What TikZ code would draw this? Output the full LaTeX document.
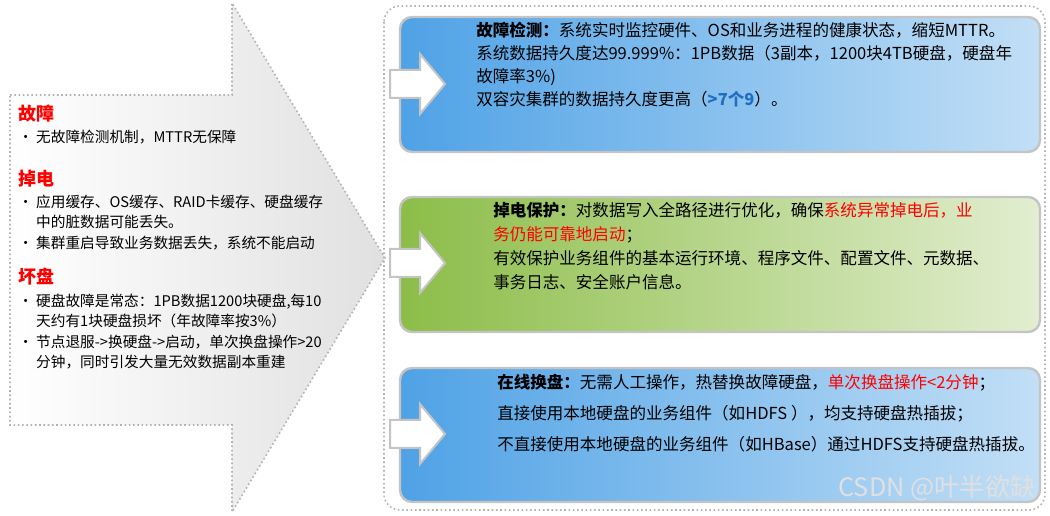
\documentclass[tikz,border=0pt]{standalone}
\usepackage{fontspec}
\setmainfont{Noto Sans CJK SC}
\usetikzlibrary{shadings}
\definecolor{bdark}{HTML}{4FA2E6}
\definecolor{blight}{HTML}{C2DFF6}
\definecolor{gdark}{HTML}{8CBD48}
\definecolor{glight}{HTML}{E2EED0}
\definecolor{brd}{HTML}{C4C4C4}
\definecolor{redt}{HTML}{FF0000}
\definecolor{bluet}{HTML}{1F6FC0}
\tikzset{
  panel/.style={draw=brd,line width=1.8pt,rounded corners=9pt},
  warrow/.style={draw=brd,line width=1.5pt,fill=white},
  ltxt/.style={anchor=north west,align=left,font=\fontsize{11}{15}\selectfont,inner sep=0pt},
  lhead/.style={anchor=north west,font=\fontsize{13.5}{15}\selectfont\bfseries,text=redt,inner sep=0pt},
  btxt/.style={anchor=north west,align=left,inner sep=0pt}
}
\begin{document}
\begin{tikzpicture}[x=0.75pt,y=-0.75pt]
\useasboundingbox (0,0) rectangle (1050,516);
% big left arrow
\path[left color=white,right color=black!12,draw=black!30,dotted,line width=1.2pt]
 (10,95) -- (232,95) -- (232,3) -- (385,258) -- (232,512) -- (232,425) -- (10,425) -- cycle;
% right dotted container
\draw[black!30,dotted,line width=1.2pt,rounded corners=12pt] (384,6) rectangle (1045,510);
% panels
\path[panel,left color=bdark,right color=blight] (400,17) rectangle (1040,152);
\path[panel,left color=gdark,right color=glight] (400,197) rectangle (1040,332);
\path[panel,left color=bdark,right color=blight] (400,368) rectangle (1040,502);
% white arrows
\foreach \y/\n in {84/a1,263/a2,434/a3}{
 \path[warrow] (390,\y-14) -- (420,\y-14) -- (420,\y-30) -- (445,\y) -- (420,\y+30) -- (420,\y+14) -- (390,\y+14) -- cycle;
}
% box texts
\node[btxt,font=\fontsize{12.4}{17.2}\selectfont] (t1) at (476,22) {%
{\bfseries 故障检测：}系统实时监控硬件、OS和业务进程的健康状态，缩短MTTR。\\
系统数据持久度达99.999\%：1PB数据（3副本，1200块4TB硬盘，硬盘年\\
故障率3\%)\\
双容灾集群的数据持久度更高（{\color{bluet}\bfseries >7个9}）。};
\node[btxt,font=\fontsize{12.4}{18}\selectfont] (t2) at (493,202) {%
{\bfseries 掉电保护：}对数据写入全路径进行优化，确保{\color{redt}系统异常掉电后，业}\\
{\color{redt}务仍能可靠地启动}；\\
有效保护业务组件的基本运行环境、程序文件、配置文件、元数据、\\
事务日志、安全账户信息。};
\node[btxt,font=\fontsize{12.4}{23.3}\selectfont] (t3) at (497,374) {%
{\bfseries 在线换盘：}无需人工操作，热替换故障硬盘，{\color{redt}单次换盘操作<2分钟}；\\
直接使用本地硬盘的业务组件（如HDFS ），均支持硬盘热插拔；\\
不直接使用本地硬盘的业务组件（如HBase）通过HDFS支持硬盘热插拔。};
% left texts
\node[lhead] (h1) at (18,105) {故障};
\node[ltxt] (l1) at (18,130) {•\ 无故障检测机制，MTTR无保障};
\node[lhead] (h2) at (18,170) {掉电};
\node[ltxt] (l2) at (18,195) {•\ 应用缓存、OS缓存、RAID卡缓存、硬盘缓存\\\phantom{•\ }中的脏数据可能丢失。};
\node[ltxt] (l3) at (18,236) {•\ 集群重启导致业务数据丢失，系统不能启动};
\node[lhead] (h3) at (18,268) {坏盘};
\node[ltxt] (l4) at (18,294) {•\ 硬盘故障是常态：1PB数据1200块硬盘,每10\\\phantom{•\ }天约有1块硬盘损坏（年故障率按3\%）};
\node[ltxt] (l5) at (18,335) {•\ 节点退服->换硬盘->启动，单次换盘操作>20\\\phantom{•\ }分钟，同时引发大量无效数据副本重建};
% watermark
\node[anchor=east,inner sep=0pt,text=white!88!black,font=\fontsize{19}{21}\selectfont] (wm) at (1036,488) {CSDN @叶半欲缺};
\end{tikzpicture}
\end{document}
